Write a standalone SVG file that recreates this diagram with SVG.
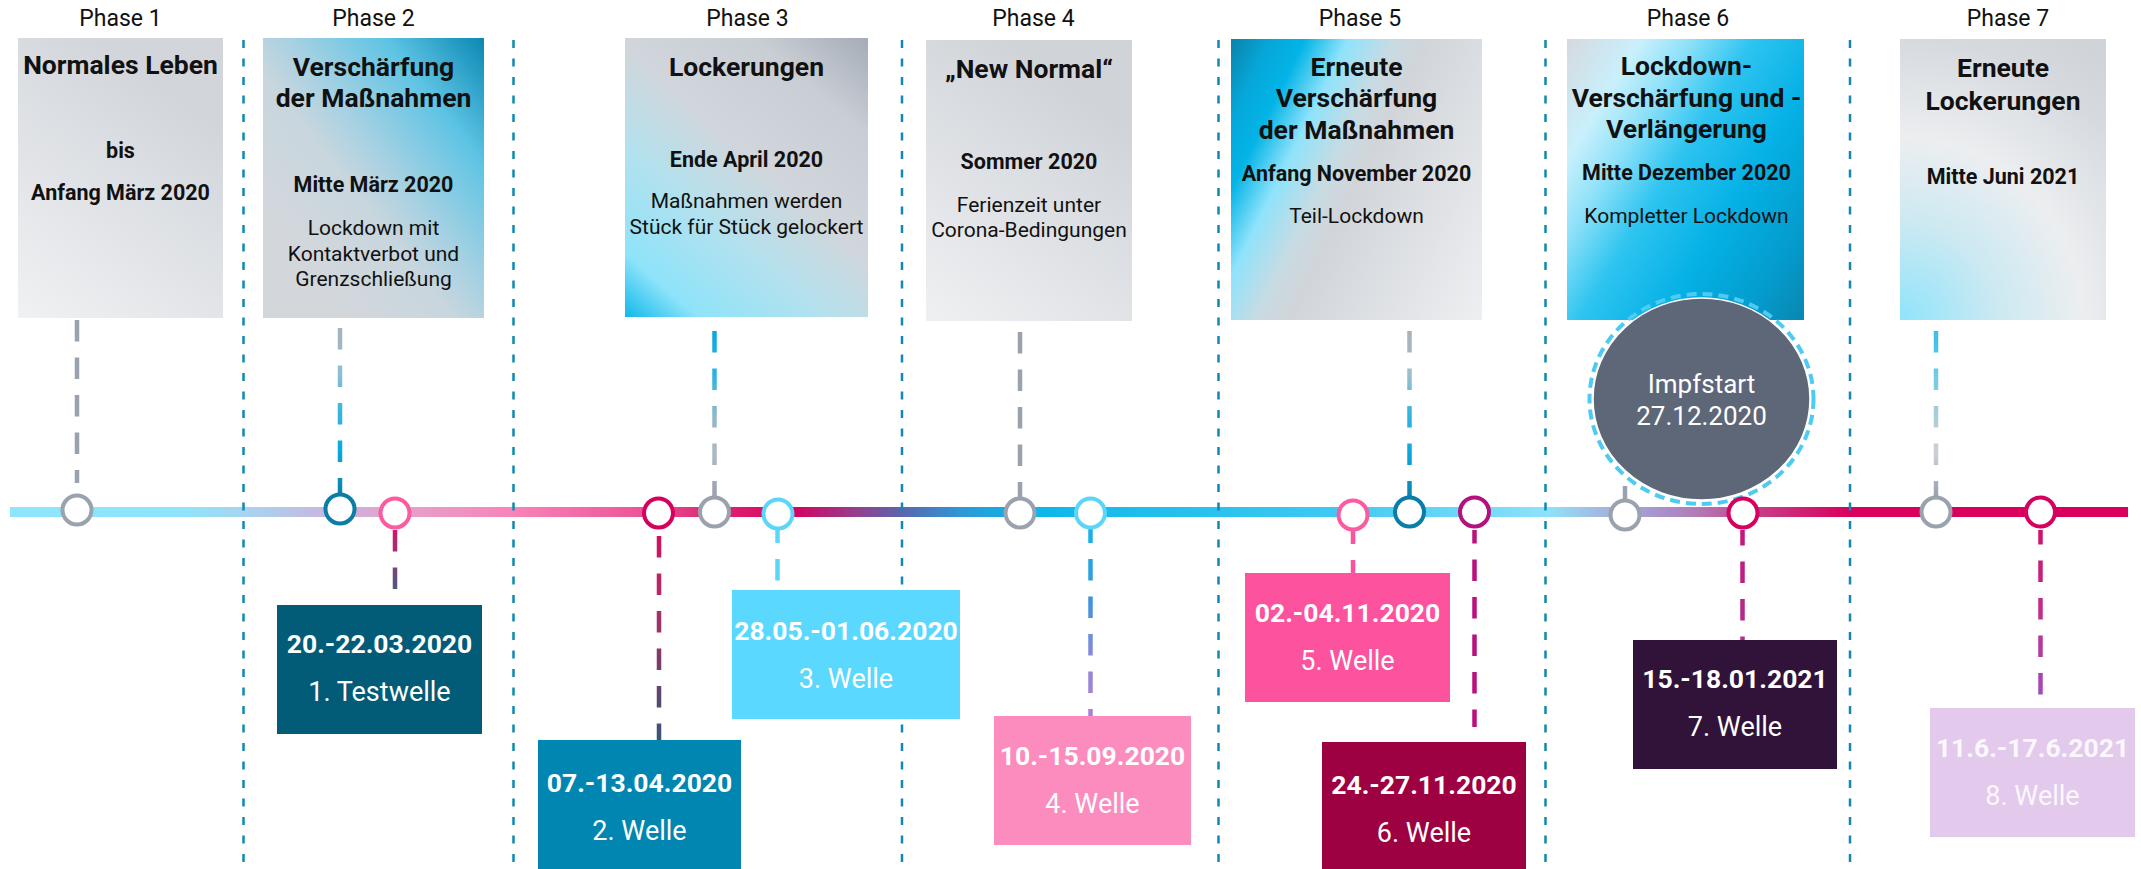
<svg xmlns="http://www.w3.org/2000/svg" width="2141" height="869" viewBox="0 0 2141 869">
<style>
text{font-family:Roboto,"Liberation Sans",sans-serif;text-anchor:middle;fill:#111}
.phase{font-size:23px}
.title{font-size:26.5px;font-weight:700}
.sub{font-size:21.5px;font-weight:700}
.body{font-size:21px}
.sep{stroke:#1287b3;stroke-width:2.5;stroke-dasharray:8 10.5;fill:none}
.dash{stroke-width:4.5;stroke-dasharray:21.5 16;fill:none}
.dot{fill:#fff;stroke-width:4}
.wdate{font-size:26.5px;font-weight:700;fill:#fff}
.wname{font-size:27px;fill:#fff}
.gray{stroke:#9aa2ae}
</style>
<defs>
<linearGradient id="gc1" gradientUnits="userSpaceOnUse" x1="18" y1="318" x2="180" y2="100"><stop offset="0" stop-color="#f0f1f3"/><stop offset="1" stop-color="#d2d6db"/></linearGradient>
<linearGradient id="gc2" gradientUnits="userSpaceOnUse" x1="263" y1="210" x2="484" y2="38"><stop offset="0" stop-color="#d3d7dc"/><stop offset="0.3" stop-color="#c8d6de"/><stop offset="0.45" stop-color="#a7d1e2"/><stop offset="0.72" stop-color="#5ec4e4"/><stop offset="1" stop-color="#0a88b3"/></linearGradient>
<linearGradient id="gc3" gradientUnits="userSpaceOnUse" x1="625" y1="317" x2="868" y2="38"><stop offset="0" stop-color="#10b9eb"/><stop offset="0.13" stop-color="#8ee3fa"/><stop offset="0.35" stop-color="#b3e1ee"/><stop offset="0.55" stop-color="#d0d6db"/><stop offset="0.8" stop-color="#c9ced4"/><stop offset="1" stop-color="#a5acb7"/></linearGradient>
<linearGradient id="gc4" gradientUnits="userSpaceOnUse" x1="926" y1="321" x2="1090" y2="100"><stop offset="0" stop-color="#eff0f2"/><stop offset="1" stop-color="#d0d4d9"/></linearGradient>
<linearGradient id="gc5" gradientUnits="userSpaceOnUse" x1="1231" y1="39" x2="1545" y2="194"><stop offset="0" stop-color="#0a82ab"/><stop offset="0.1" stop-color="#06a6d8"/><stop offset="0.19" stop-color="#03b4e6"/><stop offset="0.3" stop-color="#8fe3fb"/><stop offset="0.42" stop-color="#c8dbe2"/><stop offset="0.5" stop-color="#d1d5da"/><stop offset="1" stop-color="#eeeff1"/></linearGradient>
<linearGradient id="gc6" gradientUnits="userSpaceOnUse" x1="1567" y1="39" x2="1865" y2="224"><stop offset="0" stop-color="#d5d9de"/><stop offset="0.18" stop-color="#c9f0fc"/><stop offset="0.3" stop-color="#8fe1f9"/><stop offset="0.45" stop-color="#2ec4f0"/><stop offset="0.65" stop-color="#05b1e5"/><stop offset="0.85" stop-color="#049ccd"/><stop offset="1" stop-color="#0a86b0"/></linearGradient>
<radialGradient id="gc7" gradientUnits="userSpaceOnUse" cx="1900" cy="320" r="330"><stop offset="0" stop-color="#8fe4fb"/><stop offset="0.3" stop-color="#cde9f2"/><stop offset="0.55" stop-color="#eceef0"/><stop offset="0.85" stop-color="#d6dadf"/><stop offset="1" stop-color="#d0d4d9"/></radialGradient>
<linearGradient id="gline" x1="0" y1="0" x2="1" y2="0">
<stop offset="0" stop-color="#8ee5fc"/><stop offset="0.082" stop-color="#8fe4fb"/><stop offset="0.113" stop-color="#a9d3f0"/><stop offset="0.156" stop-color="#cdb2dc"/><stop offset="0.184" stop-color="#e4a2cc"/><stop offset="0.237" stop-color="#f884b8"/><stop offset="0.298" stop-color="#ec5597"/><stop offset="0.326" stop-color="#e0307a"/><stop offset="0.369" stop-color="#d6005e"/><stop offset="0.397" stop-color="#9a3a8a"/><stop offset="0.421" stop-color="#5a66ad"/><stop offset="0.449" stop-color="#2e98d6"/><stop offset="0.479" stop-color="#0bb6e9"/><stop offset="0.629" stop-color="#3fcaf2"/><stop offset="0.726" stop-color="#8ee2fa"/><stop offset="0.751" stop-color="#a2b8e0"/><stop offset="0.774" stop-color="#a69ad0"/><stop offset="0.798" stop-color="#b278b4"/><stop offset="0.823" stop-color="#c6418a"/><stop offset="0.868" stop-color="#d8005c"/><stop offset="1" stop-color="#d8005c"/>
</linearGradient>
<linearGradient id="gt2" gradientUnits="userSpaceOnUse" x1="0" y1="328" x2="0" y2="492"><stop offset="0" stop-color="#a8b2be"/><stop offset="0.27" stop-color="#90bfd2"/><stop offset="0.5" stop-color="#3cb6df"/><stop offset="0.75" stop-color="#09a9dc"/><stop offset="1" stop-color="#0a84ad"/></linearGradient>
<linearGradient id="gt3" gradientUnits="userSpaceOnUse" x1="0" y1="331" x2="0" y2="495"><stop offset="0" stop-color="#0aa8dc"/><stop offset="0.27" stop-color="#2ab4e2"/><stop offset="0.5" stop-color="#8ab8cc"/><stop offset="0.75" stop-color="#b0b8c2"/><stop offset="1" stop-color="#9aa2ae"/></linearGradient>
<linearGradient id="gt5" gradientUnits="userSpaceOnUse" x1="0" y1="331" x2="0" y2="495"><stop offset="0" stop-color="#aab1bb"/><stop offset="0.27" stop-color="#9cbfcc"/><stop offset="0.5" stop-color="#34b5e0"/><stop offset="0.75" stop-color="#0aa8dc"/><stop offset="1" stop-color="#0a86b0"/></linearGradient>
<linearGradient id="gt7" gradientUnits="userSpaceOnUse" x1="0" y1="331" x2="0" y2="495"><stop offset="0" stop-color="#35bfe9"/><stop offset="0.27" stop-color="#6fcbe8"/><stop offset="0.5" stop-color="#a9ccd8"/><stop offset="0.75" stop-color="#ccd0d5"/><stop offset="1" stop-color="#9aa2ae"/></linearGradient>
<linearGradient id="gb3" gradientUnits="userSpaceOnUse" x1="0" y1="530" x2="0" y2="589"><stop offset="0" stop-color="#d8126a"/><stop offset="1" stop-color="#4a5b82"/></linearGradient>
<linearGradient id="gb4" gradientUnits="userSpaceOnUse" x1="0" y1="536" x2="0" y2="738"><stop offset="0" stop-color="#d2105f"/><stop offset="0.32" stop-color="#b52a68"/><stop offset="0.62" stop-color="#7a3b6c"/><stop offset="1" stop-color="#3b5574"/></linearGradient>
<linearGradient id="gb8" gradientUnits="userSpaceOnUse" x1="0" y1="528" x2="0" y2="716"><stop offset="0" stop-color="#1ab3e8"/><stop offset="0.38" stop-color="#3e93dc"/><stop offset="0.7" stop-color="#8c8ad8"/><stop offset="1" stop-color="#b07ed6"/></linearGradient>
<linearGradient id="gb13" gradientUnits="userSpaceOnUse" x1="0" y1="530" x2="0" y2="640"><stop offset="0" stop-color="#c8137a"/><stop offset="1" stop-color="#b22e8f"/></linearGradient>
<linearGradient id="gb15" gradientUnits="userSpaceOnUse" x1="0" y1="530" x2="0" y2="708"><stop offset="0" stop-color="#d0106c"/><stop offset="0.5" stop-color="#c0308c"/><stop offset="1" stop-color="#9a50c0"/></linearGradient>
</defs>

<g id="phase-labels">
<text class="phase" x="120.5" y="26">Phase 1</text>
<text class="phase" x="373.5" y="26">Phase 2</text>
<text class="phase" x="747.5" y="26">Phase 3</text>
<text class="phase" x="1033.5" y="26">Phase 4</text>
<text class="phase" x="1360" y="26">Phase 5</text>
<text class="phase" x="1688" y="26">Phase 6</text>
<text class="phase" x="2008" y="26">Phase 7</text>
</g>

<g id="card1">
<rect x="18" y="38" width="205" height="280" fill="url(#gc1)"/>
<text class="title" x="120.5" y="74">Normales Leben</text>
<text class="sub" x="120.5" y="158">bis</text>
<text class="sub" x="120.5" y="200">Anfang März 2020</text>
</g>
<g id="card2">
<rect x="263" y="38" width="221" height="280" fill="url(#gc2)"/>
<text class="title" x="373.5" y="76">Verschärfung</text>
<text class="title" x="373.5" y="107">der Maßnahmen</text>
<text class="sub" x="373.5" y="192">Mitte März 2020</text>
<text class="body" x="373.5" y="235">Lockdown mit</text>
<text class="body" x="373.5" y="260.5">Kontaktverbot und</text>
<text class="body" x="373.5" y="286">Grenzschließung</text>
</g>
<g id="card3">
<rect x="625" y="38" width="243" height="279" fill="url(#gc3)"/>
<text class="title" x="746.5" y="76">Lockerungen</text>
<text class="sub" x="746.5" y="166.5">Ende April 2020</text>
<text class="body" x="746.5" y="208">Maßnahmen werden</text>
<text class="body" x="746.5" y="233.5">Stück für Stück gelockert</text>
</g>
<g id="card4">
<rect x="926" y="40" width="206" height="281" fill="url(#gc4)"/>
<text class="title" x="1029" y="78">„New Normal“</text>
<text class="sub" x="1029" y="169">Sommer 2020</text>
<text class="body" x="1029" y="212">Ferienzeit unter</text>
<text class="body" x="1029" y="237">Corona-Bedingungen</text>
</g>
<g id="card5">
<rect x="1231" y="39" width="251" height="281" fill="url(#gc5)"/>
<text class="title" x="1356.5" y="76">Erneute</text>
<text class="title" x="1356.5" y="107">Verschärfung</text>
<text class="title" x="1356.5" y="138.5">der Maßnahmen</text>
<text class="sub" x="1356.5" y="181">Anfang November 2020</text>
<text class="body" x="1356.5" y="223">Teil-Lockdown</text>
</g>
<g id="card6">
<rect x="1567" y="39" width="237" height="281" fill="url(#gc6)"/>
<text class="title" x="1686.5" y="75">Lockdown-</text>
<text class="title" x="1686.5" y="107">Verschärfung und -</text>
<text class="title" x="1686.5" y="138">Verlängerung</text>
<text class="sub" x="1686.5" y="180">Mitte Dezember 2020</text>
<text class="body" x="1686.5" y="223">Kompletter Lockdown</text>
</g>
<g id="card7">
<rect x="1900" y="39" width="206" height="281" fill="url(#gc7)"/>
<text class="title" x="2003" y="77">Erneute</text>
<text class="title" x="2003" y="110">Lockerungen</text>
<text class="sub" x="2003" y="184">Mitte Juni 2021</text>
</g>

<g id="timeline">
<rect x="10" y="507" width="2118" height="10" fill="url(#gline)"/>
</g>

<g id="separators">
<line class="sep" x1="243.5" y1="40" x2="243.5" y2="869"/>
<line class="sep" x1="513.5" y1="40" x2="513.5" y2="869"/>
<line class="sep" x1="902" y1="40" x2="902" y2="869"/>
<line class="sep" x1="1218.5" y1="40" x2="1218.5" y2="869"/>
<line class="sep" x1="1545.5" y1="40" x2="1545.5" y2="869"/>
<line class="sep" x1="1850" y1="40" x2="1850" y2="869"/>
</g>

<g id="impfstart">
<ellipse cx="1701.5" cy="399" rx="112" ry="105" fill="none" stroke="#4fcaf0" stroke-width="4" stroke-dasharray="10 6"/>
<ellipse cx="1701.5" cy="399" rx="108.5" ry="101" fill="#5e6777" stroke="#fff" stroke-width="1.5"/>
<text x="1701.5" y="393" style="font-size:26px;fill:#fff">Impfstart</text>
<text x="1701.5" y="425" style="font-size:26px;fill:#fff">27.12.2020</text>
</g>

<g id="connectors">
<line class="dash gray" x1="77" y1="320" x2="77" y2="483"/>
<line class="dash" stroke="url(#gt2)" x1="340" y1="328" x2="340" y2="493"/>
<line class="dash" stroke="url(#gt3)" x1="714.5" y1="331" x2="714.5" y2="496"/>
<line class="dash gray" x1="1020" y1="332" x2="1020" y2="497"/>
<line class="dash" stroke="url(#gt5)" x1="1409.5" y1="331" x2="1409.5" y2="496"/>
<line x1="1625" y1="486" x2="1625" y2="499" stroke="#9aa2ae" stroke-width="4.5"/>
<line class="dash" stroke="url(#gt7)" x1="1936" y1="331" x2="1936" y2="496"/>

<line class="dash" stroke="url(#gb3)" x1="395" y1="530" x2="395" y2="589"/>
<line class="dash" stroke="url(#gb4)" x1="659" y1="536" x2="659" y2="740"/>
<line class="dash" stroke="#5cd6f8" stroke-dashoffset="8.5" x1="777.5" y1="530" x2="777.5" y2="581"/>
<line class="dash" stroke="url(#gb8)" stroke-dashoffset="6.5" x1="1090.5" y1="528" x2="1090.5" y2="716"/>
<line class="dash" stroke="#fd529e" stroke-dashoffset="7.5" x1="1353" y1="530" x2="1353" y2="573"/>
<line class="dash" stroke="#b8127e" stroke-dashoffset="8" x1="1474.5" y1="530" x2="1474.5" y2="727"/>
<line class="dash" stroke="url(#gb13)" stroke-dashoffset="6" x1="1742.5" y1="530" x2="1742.5" y2="640"/>
<line class="dash" stroke="url(#gb15)" stroke-dashoffset="7" x1="2040.5" y1="530" x2="2040.5" y2="708"/>
</g>

<g id="markers">
<circle class="dot" cx="77" cy="510" r="14.5" stroke="#9aa2ae"/>
<circle class="dot" cx="340" cy="509" r="14.5" stroke="#0a7ea6"/>
<circle class="dot" cx="395" cy="513" r="14.5" stroke="#fd5aa0"/>
<circle class="dot" cx="658.5" cy="513" r="14.5" stroke="#d6005e"/>
<circle class="dot" cx="714.5" cy="512" r="14.5" stroke="#9aa2ae"/>
<circle class="dot" cx="778" cy="514" r="14.5" stroke="#5cd6f8"/>
<circle class="dot" cx="1020" cy="513" r="14.5" stroke="#9aa2ae"/>
<circle class="dot" cx="1090.5" cy="513" r="14.5" stroke="#5cd6f8"/>
<circle class="dot" cx="1353" cy="515" r="14.5" stroke="#fd5aa0"/>
<circle class="dot" cx="1409.5" cy="512" r="14.5" stroke="#0a7ea6"/>
<circle class="dot" cx="1474.5" cy="512" r="14.5" stroke="#b3127e"/>
<circle class="dot" cx="1625" cy="515" r="14.5" stroke="#9aa2ae"/>
<circle class="dot" cx="1743" cy="513" r="14.5" stroke="#d6005e"/>
<circle class="dot" cx="1936" cy="512" r="14.5" stroke="#9aa2ae"/>
<circle class="dot" cx="2040.5" cy="512" r="14.5" stroke="#d6005e"/>
</g>

<g id="wave1">
<rect x="277" y="605" width="205" height="129" fill="#025c78"/>
<text class="wdate" x="379.5" y="653">20.-22.03.2020</text>
<text class="wname" x="379.5" y="701">1. Testwelle</text>
</g>
<g id="wave2">
<rect x="538" y="740" width="203" height="129" fill="#0086b0"/>
<text class="wdate" x="639.5" y="792">07.-13.04.2020</text>
<text class="wname" x="639.5" y="840">2. Welle</text>
</g>
<g id="wave3">
<rect x="732" y="590" width="228" height="129" fill="#5ad8fe"/>
<text class="wdate" x="846" y="640">28.05.-01.06.2020</text>
<text class="wname" x="846" y="688">3. Welle</text>
</g>
<g id="wave4">
<rect x="994" y="716" width="197" height="129" fill="#fc8bbe"/>
<text class="wdate" x="1092.5" y="765">10.-15.09.2020</text>
<text class="wname" x="1092.5" y="813">4. Welle</text>
</g>
<g id="wave5">
<rect x="1245" y="573" width="205" height="129" fill="#fd529e"/>
<text class="wdate" x="1347.5" y="622">02.-04.11.2020</text>
<text class="wname" x="1347.5" y="670">5. Welle</text>
</g>
<g id="wave6">
<rect x="1322" y="742" width="204" height="127" fill="#9d0141"/>
<text class="wdate" x="1424" y="794">24.-27.11.2020</text>
<text class="wname" x="1424" y="842">6. Welle</text>
</g>
<g id="wave7">
<rect x="1633" y="640" width="204" height="129" fill="#31133a"/>
<text class="wdate" x="1735" y="688">15.-18.01.2021</text>
<text class="wname" x="1735" y="736">7. Welle</text>
</g>
<g id="wave8">
<rect x="1930" y="708" width="205" height="129" fill="#e3caec"/>
<text class="wdate" x="2032.5" y="757" style="fill:#fbf7fd">11.6.-17.6.2021</text>
<text class="wname" x="2032.5" y="805" style="fill:#fbf7fd">8. Welle</text>
</g>
</svg>
